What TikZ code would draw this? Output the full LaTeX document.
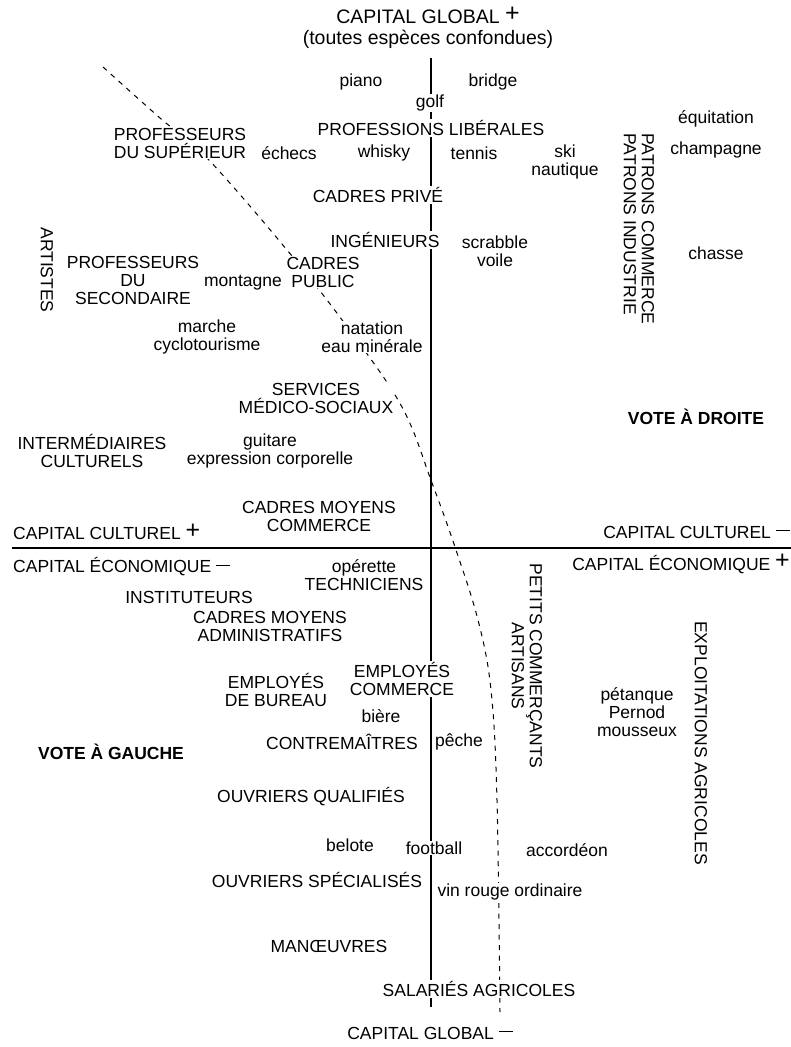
\documentclass[tikz,border=0pt]{standalone}
\usepackage{fontspec}
\setmainfont{Liberation Sans}
\newcommand{\plussign}{\raisebox{1.5pt}{\fontsize{25}{25}\selectfont +}}
\newcommand{\minussign}{\rule[7pt]{14pt}{1.3pt}}
\begin{document}
\begin{tikzpicture}[x=1pt,y=-1pt,
  lab/.style={font=\fontsize{17.5}{18}\selectfont, align=center, inner sep=1pt, fill=white},
  big/.style={font=\fontsize{19.5}{21}\selectfont, align=center, inner sep=1pt, fill=white},
  boldlab/.style={font=\bfseries\fontsize{17.5}{18}\selectfont, inner sep=1pt},
  axis/.style={line width=1.1pt},
  frontier/.style={line width=1pt, dash pattern=on 5pt off 5.5pt}]
\useasboundingbox (0,0) rectangle (791,1047);
\fill[white] (0,0) rectangle (791,1047);

% axes
\coordinate (vtop) at (431,58);
\coordinate (vbot) at (431,1007);
\coordinate (hleft) at (12,548);
\coordinate (hright) at (791,548);
\draw[axis] (vtop) -- (vbot);
\draw[axis] (hleft) -- (hright);

% frontier (dashed curve)
\draw[frontier] plot[smooth, tension=0.6] coordinates {(103,67) (160,118) (207,158) (287,250) (348,328) (402,407) (432,483) (455,547) (478,620) (491,690) (497,800) (500,1012)};

% top / bottom titles
\node[big] (cgplus) at (428,28) {CAPITAL GLOBAL \plussign\\(toutes espèces confondues)};
\node[lab] (cgminus) at (430,1033) {CAPITAL GLOBAL \minussign};

% horizontal axis labels
\node[lab, anchor=west] (ccplus) at (12,532) {CAPITAL CULTUREL \plussign};
\node[lab, anchor=east] (ccminus) at (791,532) {CAPITAL CULTUREL \minussign};
\node[lab, anchor=west] (ceminus) at (12,567) {CAPITAL ÉCONOMIQUE \minussign};
\node[lab, anchor=east] (ceplus) at (791,564) {CAPITAL ÉCONOMIQUE \plussign};

% upper region
\node[lab] (piano) at (361,82) {piano};
\node[lab] (bridge) at (493,82) {bridge};
\node[lab] (golf) at (430,103) {golf};
\node[lab] (proflib) at (431,128) {PROFESSIONS LIBÉRALES};
\node[lab] (profsup) at (180,143) {PROFESSEURS\\DU SUPÉRIEUR};
\node[lab] (echecs) at (289,153) {échecs};
\node[lab] (whisky) at (384,153) {whisky};
\node[lab] (tennis) at (474,153) {tennis};
\node[lab] (ski) at (565,162) {ski\\nautique};
\node[lab] (equit) at (716,119) {équitation};
\node[lab] (champ) at (716,150) {champagne};
\node[lab, rotate=-90, align=left] (patrons) at (639,229) {PATRONS COMMERCE\\PATRONS INDUSTRIE};
\node[lab] (cadprive) at (378,195) {CADRES PRIVÉ};
\node[lab] (ingen) at (385,240) {INGÉNIEURS};
\node[lab] (scrab) at (495,251) {scrabble\\voile};
\node[lab] (chasse) at (716,253) {chasse};
\node[lab, rotate=-90] (artistes) at (47,270) {ARTISTES};
\node[lab] (profsec) at (133,280) {PROFESSEURS\\DU\\SECONDAIRE};
\node[lab] (montagne) at (243,283) {montagne};
\node[lab] (cadpub) at (323,272) {CADRES\\PUBLIC};
\node[lab] (marche) at (207,337) {marche\\cyclotourisme};
\node[lab] (natation) at (372,337) {natation\\eau minérale};
\node[lab] (services) at (316,398) {SERVICES\\MÉDICO-SOCIAUX};
\node[boldlab] (droite) at (696,417) {VOTE À DROITE};
\node[lab] (interm) at (92,451) {INTERMÉDIAIRES\\CULTURELS};
\node[lab] (guitare) at (270,451) {guitare\\expression corporelle};
\node[lab] (cmcom) at (319,516) {CADRES MOYENS\\COMMERCE};

% lower region
\node[lab] (operette) at (364,575) {opérette\\TECHNICIENS};
\node[lab] (instit) at (189,597) {INSTITUTEURS};
\node[lab] (cmadm) at (270,626) {CADRES MOYENS\\ADMINISTRATIFS};
\node[lab, rotate=-90] (petits) at (527,666) {PETITS COMMERÇANTS\\ARTISANS};
\node[lab, rotate=-90] (exploit) at (701,743) {EXPLOITATIONS AGRICOLES};
\node[lab] (empbur) at (276,690) {EMPLOYÉS\\DE BUREAU};
\node[lab] (empcom) at (402,679) {EMPLOYÉS\\COMMERCE};
\node[lab] (petanque) at (637,712) {pétanque\\Pernod\\mousseux};
\node[lab] (biere) at (381,716) {bière};
\node[lab] (contre) at (342,742) {CONTREMAÎTRES};
\node[lab] (peche) at (459,742) {pêche};
\node[boldlab] (gauche) at (111,752) {VOTE À GAUCHE};
\node[lab] (oq) at (311,797) {OUVRIERS QUALIFIÉS};
\node[lab] (belote) at (350,845) {belote};
\node[lab] (football) at (434,848) {football};
\node[lab] (accord) at (567,850) {accordéon};
\node[lab] (os) at (317,880) {OUVRIERS SPÉCIALISÉS};
\node[lab] (vin) at (510,892) {vin rouge ordinaire};
\node[lab] (manoeuvres) at (329,946) {MANŒUVRES};
\node[lab] (salaries) at (479,989) {SALARIÉS AGRICOLES};
\end{tikzpicture}
\end{document}
